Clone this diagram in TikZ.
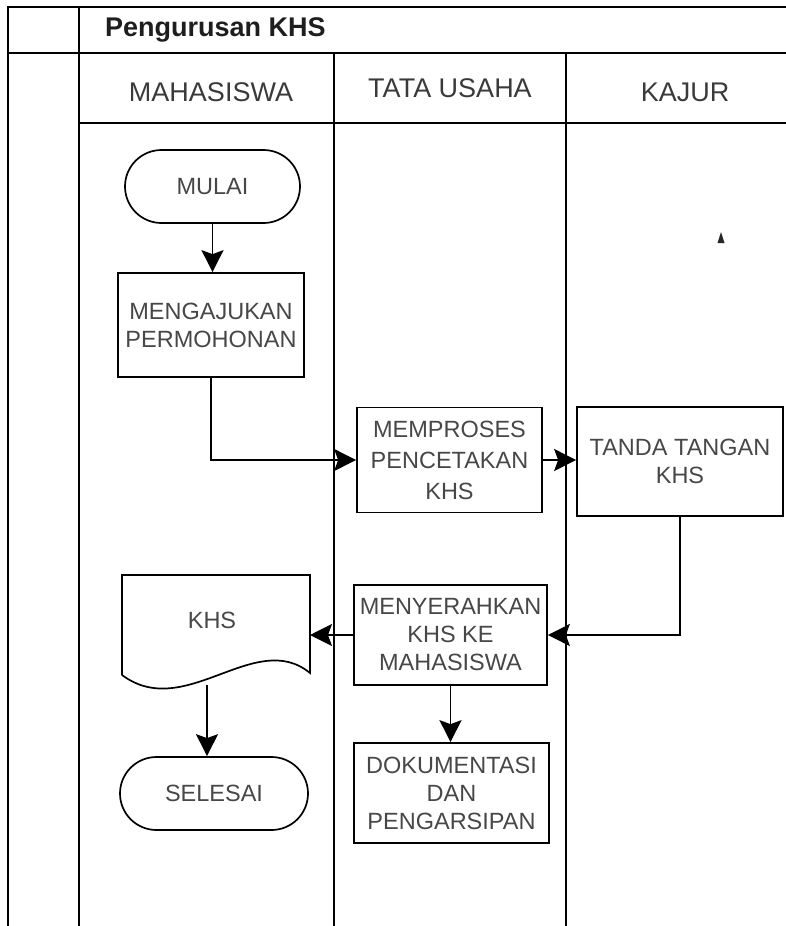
\documentclass[tikz,border=0pt]{standalone}
\usepackage{fontspec}
\setmainfont{Liberation Sans}
\usetikzlibrary{arrows.meta,shapes.misc}
\definecolor{titletxt}{HTML}{1E1E1E}
\definecolor{headtxt}{HTML}{3A3A3A}
\definecolor{nodetxt}{HTML}{474747}
\newcommand\myNodeFont{\fontsize{23.5}{28}\selectfont}
\begin{document}
\begin{tikzpicture}[x=1pt,y=-1pt,
  lane/.style={line width=1.7pt, line cap=rect},
  box/.style={draw, line width=1.7pt, align=center, inner sep=0pt, font=\myNodeFont, text=nodetxt},
  term/.style={rounded rectangle, draw, line width=1.7pt, align=center, inner sep=0pt, font=\myNodeFont, text=nodetxt},
  flow/.style={-{Stealth[length=22pt,width=22pt,inset=4pt]}, line width=1.7pt},
  headtext/.style={font=\fontsize{27}{32}\selectfont, text=headtxt, inner sep=0pt}
]
\useasboundingbox (0,0) rectangle (785,926);
% pool and lanes
\draw[lane] (8,7) -- (785,7);
\draw[lane] (8,53) -- (785,53);
\draw[lane] (79,123) -- (785,123);
\draw[lane] (8,7) -- (8,926);
\draw[lane] (79,7) -- (79,926);
\draw[lane] (334,53) -- (334,926);
\draw[lane] (566,53) -- (566,926);
\node[anchor=west, font=\bfseries\fontsize{27}{32}\selectfont, text=titletxt, inner sep=0pt] (title) at (105,30) {Pengurusan KHS};
\node[headtext] (h1) at (211,92) {MAHASISWA};
\node[headtext] (h2) at (450,88) {TATA USAHA};
\node[headtext] (h3) at (685,92) {KAJUR};
% nodes
\node[term, minimum width=175pt, minimum height=73pt] (start) at (212.5,186.5) {MULAI};
\node[box, minimum width=186pt, minimum height=104pt] (ajukan) at (211,325) {MENGAJUKAN\\PERMOHONAN};
\node[box, minimum width=185pt, minimum height=105pt, font=\fontsize{23.5}{31}\selectfont] (proses) at (449.5,460) {MEMPROSES\\PENCETAKAN\\KHS};
\node[box, minimum width=206pt, minimum height=109pt] (ttd) at (680,461.5) {TANDA TANGAN\\KHS};
\node[box, minimum width=193pt, minimum height=100pt] (serah) at (450.5,635) {MENYERAHKAN\\KHS KE\\MAHASISWA};
\node[box, minimum width=195pt, minimum height=100pt] (dok) at (451.5,793) {DOKUMENTASI\\DAN\\PENGARSIPAN};
\node[term, minimum width=188pt, minimum height=73pt] (selesai) at (214,793.5) {SELESAI};
% document shape
\coordinate (docTL) at (122,575);
\coordinate (docTR) at (310,575);
\coordinate (docR) at (310,673);
\coordinate (docL) at (122,675);
\coordinate (docE) at (310,635);
\coordinate (docB) at (207,685);
\draw[line width=1.7pt, line join=miter] (docL) -- (docTL) -- (docTR) -- (docR) .. controls (255,628) and (185,722) .. (docL);
\node[font=\myNodeFont, text=nodetxt, inner sep=0pt] (khs) at (212,620) {KHS};
% stray mark
\fill[black!85] (717.5,243) -- (721,232) -- (724.5,243) -- cycle;
% connectors
\draw[flow] (start.south) -- (start.south |- ajukan.north);
\draw[flow] (ajukan.south) |- (proses.west);
\draw[flow] (proses.east) -- (proses.east -| ttd.west);
\draw[flow] (ttd.south) |- (serah.east);
\draw[flow] (serah.west) -- (docE);
\draw[flow] (docB) -- (docB |- selesai.north);
\draw[flow] (serah.south) -- (serah.south |- dok.north);
\end{tikzpicture}
\end{document}
